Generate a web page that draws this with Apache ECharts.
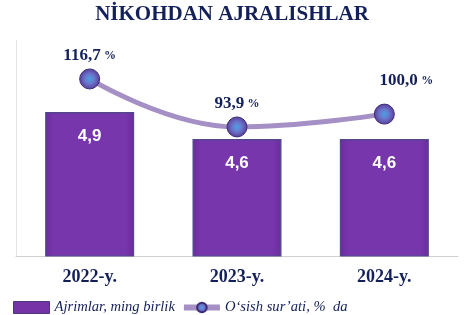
<!DOCTYPE html>
<html><head><meta charset="utf-8">
<script src="https://cdn.jsdelivr.net/npm/echarts@6/dist/echarts.min.js"></script>
<style>html,body{margin:0;padding:0;background:#fff}#c{width:467px;height:315px}</style>
</head><body><div id="c"></div>
<script>
const titleText = "NİKOHDAN AJRALISHLAR";
const categories = ["2022-y.", "2023-y.", "2024-y."];
const barName = "Ajrimlar, ming birlik";
const barValues = [4.9, 4.6, 4.6];
const lineName = "O‘sish sur’ati, %  da";
const lineValues = [116.7, 93.9, 100.0];

const navy = '#14205a';
const fmt = v => v.toFixed(1).replace('.', ',');
const chart = echarts.init(document.getElementById('c'));
chart.setOption({
  animation: false,
  title: {
    text: titleText, left: 227, top: -1, textAlign: 'center',
    textStyle: {fontFamily: 'Liberation Serif', fontWeight: 'bold', fontSize: 21, color: navy}
  },
  grid: {left: 16, right: 9, top: 40, bottom: 59},
  legend: {
    left: 8, top: 295, itemGap: 6,
    textStyle: {fontFamily: 'Liberation Serif', fontStyle: 'italic', fontSize: 14.6, color: navy},
    data: [
      {name: barName, icon: 'rect', itemStyle: {color: '#7633a8', borderColor: '#4a3a7a', borderWidth: 1}},
      {name: lineName, lineStyle: {width: 6, color: '#a590c6'}}
    ],
    itemWidth: 36, itemHeight: 12
  },
  xAxis: {
    type: 'category', data: categories,
    axisLine: {lineStyle: {color: '#d0d0d0', width: 1}},
    axisTick: {show: false},
    axisLabel: {fontFamily: 'Liberation Serif', fontWeight: 'bold', fontSize: 18, color: navy, margin: 12}
  },
  yAxis: [
    {type: 'value', min: 3.3, max: 5.7, show: true, splitLine: {show: false},
     axisLine: {show: true, lineStyle: {color: '#e4e4e4'}}, axisLabel: {show: false}, axisTick: {show: false}},
    {type: 'value', min: 32.6, max: 135.2, show: false, splitLine: {show: false}}
  ],
  series: [
    {
      name: barName, type: 'bar', data: barValues, barWidth: 89, yAxisIndex: 0,
      itemStyle: {
        color: new echarts.graphic.LinearGradient(0, 0, 1, 0, [
          {offset: 0, color: '#6a2c9c'}, {offset: 0.1, color: '#7836ac'},
          {offset: 0.9, color: '#7836ac'}, {offset: 1, color: '#6a2c9c'}]),
        borderColor: '#4e4a8a', borderWidth: 1.2
      },
      label: {
        show: true, position: 'insideTop', distance: 16,
        formatter: p => fmt(p.value),
        fontFamily: 'Liberation Sans', fontWeight: 'bold', fontSize: 17, color: '#ffffff'
      }
    },
    {
      name: lineName, type: 'line', data: lineValues, yAxisIndex: 1, smooth: 0.45,
      symbol: 'circle', symbolSize: 20,
      lineStyle: {color: '#a590c6', width: 5},
      itemStyle: {
        color: new echarts.graphic.RadialGradient(0.5, 0.5, 0.5, [
          {offset: 0, color: '#4aa0e6'}, {offset: 0.45, color: '#6a78cc'}, {offset: 1, color: '#5a3c98'}]),
        borderColor: '#3e2c78', borderWidth: 1
      },
      label: {
        show: true, position: 'top', distance: 4,
        formatter: p => '{n|' + fmt(p.value) + '} {p|%}',
        rich: {
          n: {fontFamily: 'Liberation Serif', fontWeight: 'bold', fontSize: 17, color: navy},
          p: {fontFamily: 'Liberation Serif', fontWeight: 'bold', fontSize: 12, color: navy}
        }
      },
      labelLayout: function (params) {
        if (params.dataIndex === 2) return {dx: 22, dy: -10};
        return {dx: 0, dy: 0};
      }
    }
  ]
});
</script></body></html>
